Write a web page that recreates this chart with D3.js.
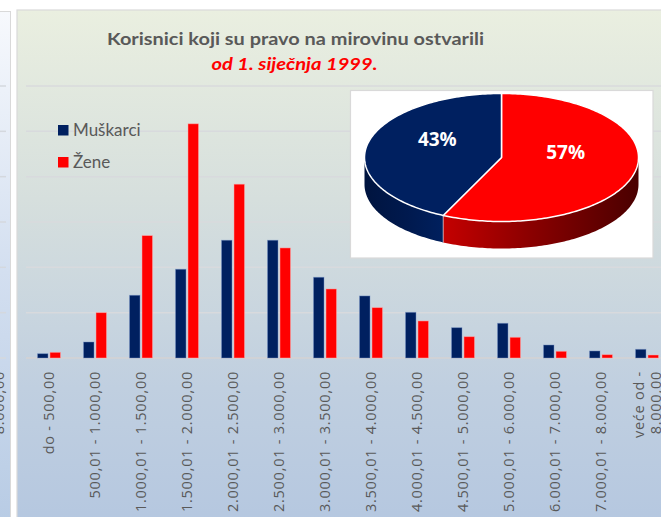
<!DOCTYPE html>
<html>
<head>
<meta charset="utf-8">
<script src="https://cdn.jsdelivr.net/npm/d3@7/dist/d3.min.js"></script>
<style>
  html, body { margin: 0; padding: 0; background: #ffffff; }
  svg { display: block; }
</style>
</head>
<body>
<svg id="chart" width="661" height="517"></svg>
<script>
// Pension ranges (kn) and number of beneficiaries by sex
const categories = [
  "do - 500,00", "500,01 - 1.000,00", "1.000,01 - 1.500,00", "1.500,01 - 2.000,00",
  "2.000,01 - 2.500,00", "2.500,01 - 3.000,00", "3.000,01 - 3.500,00", "3.500,01 - 4.000,00",
  "4.000,01 - 4.500,00", "4.500,01 - 5.000,00", "5.000,01 - 6.000,00", "6.000,01 - 7.000,00",
  "7.000,01 - 8.000,00", "veće od - 8.000,00"
];
const seriesNames = ["Muškarci", "Žene"];
const muskarci = [95, 353, 1384, 1958, 2598, 2598, 1781, 1369, 1008, 669, 766, 287, 155, 192];
const zene     = [125, 1000, 2700, 5166, 3834, 2428, 1523, 1111, 817, 470, 457, 148, 73, 66];
const gridTicks = [0, 1000, 2000, 3000, 4000, 5000, 6000];

// Share of beneficiaries (pie inset)
const pieLabels = ["Žene", "Muškarci"];
const pieShares = [57, 43];

const colors = { "Muškarci": "#002060", "Žene": "#ff0000" };
const textGray = "#595959";

const svg = d3.select("#chart");
const defs = svg.append("defs");

// Background gradients
const bgMain = defs.append("linearGradient").attr("id", "bgMain")
  .attr("x1", 0).attr("y1", 0).attr("x2", 0).attr("y2", 1);
[[0, "#eaefe0"], [0.35, "#d6dfdd"], [0.7, "#c0cfe0"], [1, "#b3c6e0"]]
  .forEach(([o, c]) => bgMain.append("stop").attr("offset", o).attr("stop-color", c));

const bgSide = defs.append("linearGradient").attr("id", "bgSide")
  .attr("x1", 0).attr("y1", 0).attr("x2", 0).attr("y2", 1);
[[0, "#f7f9fd"], [0.5, "#d3dff0"], [1, "#b7cbe4"]]
  .forEach(([o, c]) => bgSide.append("stop").attr("offset", o).attr("stop-color", c));

// Neighbouring panel on the left edge
svg.append("rect").attr("x", -20).attr("y", 11.5).attr("width", 30.5).attr("height", 520)
  .attr("fill", "url(#bgSide)").attr("stroke", "#d9d9d9").attr("stroke-width", 1);
const sideClip = defs.append("clipPath").attr("id", "sideClip");
sideClip.append("rect").attr("x", 0).attr("y", 12).attr("width", 10).attr("height", 505);
const sideG = svg.append("g").attr("clip-path", "url(#sideClip)");
gridTicks.forEach(t => {
  sideG.append("line").attr("x1", 0).attr("x2", 6)
    .attr("y1", 358 - t * 272 / 6000).attr("y2", 358 - t * 272 / 6000)
    .attr("stroke", "#d4d8de").attr("stroke-width", 1.5);
});
sideG.append("text").attr("transform", "translate(3.5,371) rotate(-90)")
  .attr("text-anchor", "end").attr("font-family", "Open Sans").attr("font-size", 14.5)
  .attr("letter-spacing", 0.75).attr("fill", textGray).text("8.000,00");

// Main panel
svg.append("rect").attr("x", 17).attr("y", 10).attr("width", 700).attr("height", 540)
  .attr("fill", "url(#bgMain)").attr("stroke", "#d9d9d9").attr("stroke-width", 1.2);

// Scales
const plotLeft = 26, step = 46;
const x0 = d3.scaleBand().domain(categories)
  .range([plotLeft, plotLeft + step * categories.length]).padding(0);
const x1 = d3.scaleBand().domain(seriesNames)
  .range([x0.bandwidth() / 2 - 11.5, x0.bandwidth() / 2 + 11.5]).paddingInner(0.16);
const y = d3.scaleLinear().domain([0, 6000]).range([358, 86]);

// Gridlines
const grid = svg.append("g");
grid.selectAll("line").data(gridTicks).join("line")
  .attr("x1", plotLeft).attr("x2", 661)
  .attr("y1", d => y(d)).attr("y2", d => y(d))
  .attr("stroke", d => d === 0 ? "#d0d2d6" : "#d8dadd")
  .attr("stroke-width", d => d === 0 ? 2.2 : 1.5);

// Bars
const rows = categories.map((c, i) => ({ cat: c, "Muškarci": muskarci[i], "Žene": zene[i] }));
const groups = svg.append("g").selectAll("g").data(rows).join("g")
  .attr("transform", d => `translate(${x0(d.cat)},0)`);
groups.selectAll("rect").data(d => seriesNames.map(s => ({ s, v: d[s] }))).join("rect")
  .attr("x", d => x1(d.s)).attr("width", x1.bandwidth())
  .attr("y", d => y(d.v)).attr("height", d => y(0) - y(d.v))
  .attr("fill", d => colors[d.s])
  .attr("stroke", d => d.s === "Muškarci" ? "rgba(120,150,200,0.55)" : "rgba(255,170,170,0.6)")
  .attr("stroke-width", 0.8);

// Category axis, rotated labels
const xAxis = d3.axisBottom(x0).tickSize(0).tickPadding(0);
const axG = svg.append("g").attr("transform", "translate(0,371)").call(xAxis);
axG.select(".domain").remove();
axG.selectAll(".tick text").each(function (d) {
  const t = d3.select(this);
  t.text(null)
    .attr("transform", "rotate(-90)")
    .attr("text-anchor", "end")
    .attr("x", 0).attr("y", 0).attr("dy", null)
    .attr("font-family", "Open Sans").attr("font-size", 14.5)
    .attr("letter-spacing", 0.75)
    .attr("fill", textGray);
  const lines = d.startsWith("veće") ? ["veće od -", "8.000,00"] : [d];
  lines.forEach((ln, k) => {
    const off = lines.length === 1 ? 0 : (k === 0 ? -8.5 : 8.5);
    t.append("tspan").attr("x", 0).attr("y", off + 5).text(ln);
  });
});

// Title
svg.append("text").attr("x", 295.5).attr("y", 44.5).attr("text-anchor", "middle")
  .attr("font-family", "Lato").attr("font-weight", "bold").attr("font-size", 17.5)
  .attr("fill", textGray).attr("textLength", 377).attr("lengthAdjust", "spacingAndGlyphs")
  .text("Korisnici koji su pravo na mirovinu ostvarili");
svg.append("text").attr("x", 294.5).attr("y", 69.5).attr("text-anchor", "middle")
  .attr("font-family", "Lato").attr("font-weight", "bold").attr("font-style", "italic")
  .attr("font-size", 17).attr("fill", "#ff0000")
  .attr("textLength", 166).attr("lengthAdjust", "spacingAndGlyphs")
  .text("od 1. siječnja 1999.");

// Legend
const legend = svg.append("g");
seriesNames.forEach((s, i) => {
  const ly = 125 + i * 32;
  legend.append("rect").attr("x", 58).attr("y", ly).attr("width", 10.5).attr("height", 10.5)
    .attr("fill", colors[s]);
  legend.append("text").attr("x", 73).attr("y", ly + 10.5)
    .attr("font-family", "Lato").attr("font-size", 17).attr("fill", textGray).text(s);
});

// Pie inset box
svg.append("rect").attr("x", 350.5).attr("y", 90.5).attr("width", 302.5).attr("height", 167.5)
  .attr("fill", "#ffffff").attr("stroke", "#d9d9d9").attr("stroke-width", 1.2);

// 3D pie
const cx = 501.5, cy = 157.5, rx = 137, ry = 64, depth = 27;
const proj = (a, dy = 0, f = 1) => [cx + rx * f * Math.sin(a), cy - ry * f * Math.cos(a) + dy];
const arcPts = (a0, a1, dy) => {
  const n = Math.max(2, Math.ceil((a1 - a0) / 0.02));
  return d3.range(n + 1).map(k => proj(a0 + (a1 - a0) * k / n, dy));
};
const pieGen = d3.pie().sort(null).startAngle(0).endAngle(2 * Math.PI);
const slices = pieGen(pieShares).map((p, i) => ({ ...p, name: pieLabels[i] }));

// Side shading gradients
const sideGrad = {
  "Žene": [["#c40000", 0], ["#8a0000", 0.45], ["#4a0000", 1]],
  "Muškarci": [["#00143f", 0], ["#001a50", 0.6], ["#00205e", 1]]
};
const pieG = svg.append("g");
slices.forEach(s => {
  const a0 = Math.max(s.startAngle, Math.PI / 2), a1 = Math.min(s.endAngle, 3 * Math.PI / 2);
  if (a1 <= a0) return;
  const top = arcPts(a0, a1, 0), bot = arcPts(a0, a1, depth).reverse();
  const xs = top.map(p => p[0]);
  const gid = "side" + s.index;
  const g = defs.append("linearGradient").attr("id", gid).attr("gradientUnits", "userSpaceOnUse")
    .attr("x1", d3.min(xs)).attr("x2", d3.max(xs))
    .attr("y1", 0).attr("y2", 0);
  sideGrad[s.name].forEach(([c, o]) => g.append("stop").attr("offset", o).attr("stop-color", c));
  pieG.append("path").attr("d", d3.line()(top.concat(bot)) + "Z").attr("fill", `url(#${gid})`);
});
// Seam on the side where the slices meet
slices.forEach(s => {
  const a = s.startAngle;
  if (a > Math.PI / 2 && a < 3 * Math.PI / 2) {
    const p = proj(a, 0);
    pieG.append("line").attr("x1", p[0]).attr("x2", p[0]).attr("y1", p[1]).attr("y2", p[1] + depth)
      .attr("stroke", "rgba(255,255,255,0.55)").attr("stroke-width", 1);
  }
});
slices.forEach(s => {
  const pts = [[cx, cy]].concat(arcPts(s.startAngle, s.endAngle, 0));
  pieG.append("path").attr("d", d3.line()(pts) + "Z")
    .attr("fill", colors[s.name]).attr("stroke", "#ffffff").attr("stroke-width", 1.5)
    .attr("stroke-linejoin", "round");
});
slices.forEach(s => {
  const mid = (s.startAngle + s.endAngle) / 2;
  const p = proj(mid, -12, 0.48);
  pieG.append("text").attr("x", p[0]).attr("y", p[1] + 7).attr("text-anchor", "middle")
    .attr("font-family", "Open Sans").attr("font-weight", "bold").attr("font-size", 19)
    .attr("fill", "#ffffff").text(Math.round(s.value) + "%");
});
</script>
</body>
</html>
